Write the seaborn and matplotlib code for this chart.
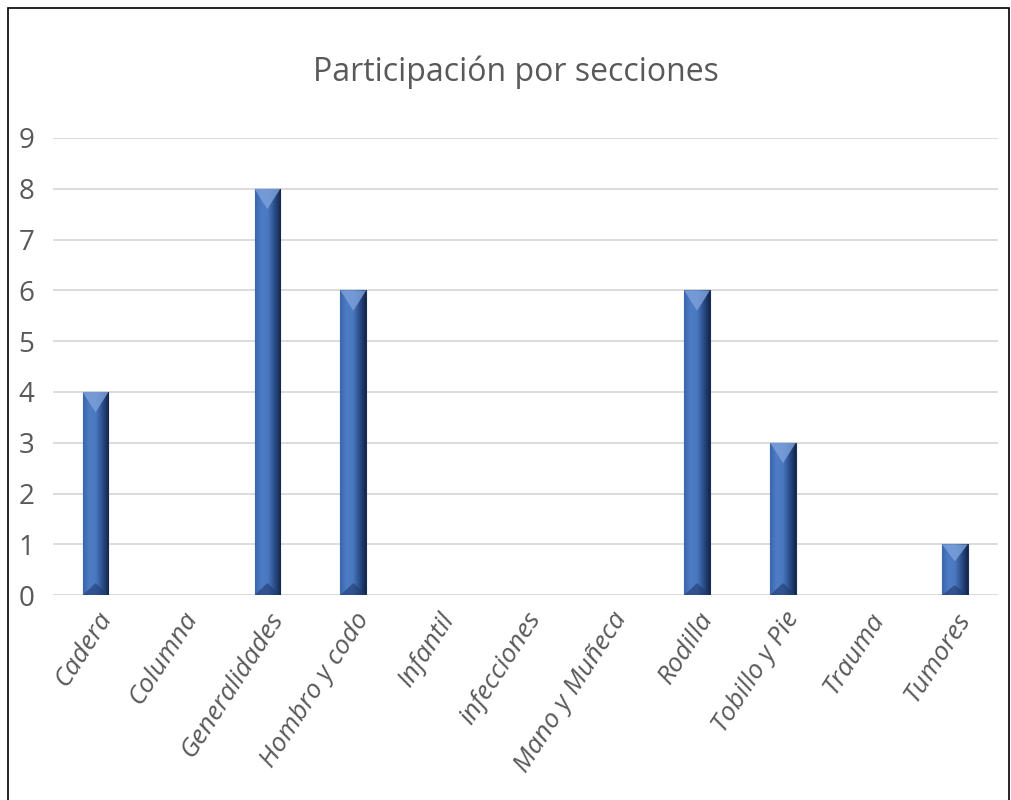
import numpy as np
import pandas as pd
import seaborn as sns
import matplotlib.pyplot as plt
from matplotlib.patches import Rectangle, Polygon

secciones = ['Cadera', 'Columna', 'Generalidades', 'Hombro y codo', 'Infantil',
             'infecciones', 'Mano y Muñeca', 'Rodilla', 'Tobillo y Pie', 'Trauma', 'Tumores']
participacion = [4, 0, 8, 6, 0, 0, 0, 6, 3, 0, 1]

df = pd.DataFrame({'seccion': secciones, 'n': participacion})

sns.set_style('white')
plt.rcParams['font.family'] = ['Open Sans', 'DejaVu Sans']

fig = plt.figure(figsize=(10.11, 8), dpi=100)
ax = fig.add_axes([0.052, 0.256, 0.935, 0.5715])

sns.barplot(data=df, x='seccion', y='n', color='#4472C4', width=0.3,
            edgecolor='#1a2f5a', linewidth=0.8, ax=ax)

# gradiente horizontal en cada barra + bisel arriba/abajo
grad = np.linspace(0, 1, 64).reshape(1, -1)
cmap = plt.matplotlib.colors.LinearSegmentedColormap.from_list(
    'barra', ['#3b66ad', '#4d7cc6', '#4a78c0', '#2c4f8c', '#122649'])
for p in list(ax.patches):
    h = p.get_height()
    if h <= 0:
        p.set_visible(False)
        continue
    x0, w = p.get_x(), p.get_width()
    im = ax.imshow(grad, extent=[x0, x0 + w, 0, h], aspect='auto', cmap=cmap, zorder=3)
    im.set_clip_path(p)
    d = min(0.4, h / 3)
    top = Polygon([[x0, h], [x0 + w, h], [x0 + w / 2, h - d]], closed=True,
                  facecolor='#7fa3dc', edgecolor='none', alpha=0.8, zorder=4)
    bot = Polygon([[x0, 0], [x0 + w, 0], [x0 + w / 2, d * 0.6]], closed=True,
                  facecolor='#1f3a6e', edgecolor='none', alpha=0.6, zorder=4)
    ax.add_patch(top)
    ax.add_patch(bot)

ax.set_xlim(-0.5, len(secciones) - 0.5)
ax.set_ylim(0, 9)
ax.set_yticks(range(10))
ax.grid(axis='y', color='#d9d9d9', linewidth=1.3)
ax.set_axisbelow(True)
for s in ax.spines.values():
    s.set_visible(False)
ax.set_xlabel('')
ax.set_ylabel('')
ax.tick_params(axis='y', labelsize=20, labelcolor='#595959', length=0, pad=13)
ax.tick_params(axis='x', labelsize=19, labelcolor='#595959', length=0, pad=9)
plt.setp(ax.get_xticklabels(), rotation=57, ha='right', rotation_mode='anchor',
         style='italic')

fig.text(0.51, 0.91, 'Participación por secciones', ha='center', va='center',
         fontsize=23, color='#595959')

fig.patches.append(Rectangle((0.008, -0.01), 0.99, 1.0, transform=fig.transFigure,
                             fill=False, edgecolor='black', linewidth=1.2))

fig.savefig('out.png', dpi=100)
